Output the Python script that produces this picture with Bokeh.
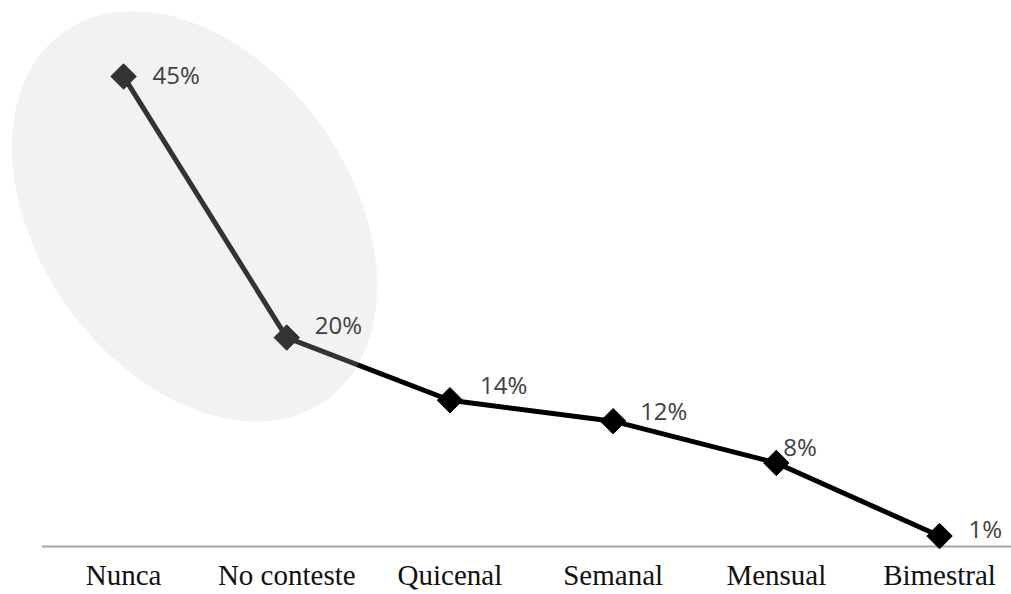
import math
from bokeh.plotting import figure
from bokeh.models import Range1d, FixedTicker, ColumnDataSource
from bokeh.core.properties import value
from bokeh.embed import file_html
from bokeh.resources import INLINE

# ---- data ----
categories = ["Nunca", "No conteste", "Quicenal", "Semanal", "Mensual", "Bimestral"]
percentages = [45, 20, 14, 12, 8, 1]
labels = ["45%", "20%", "14%", "12%", "8%", "1%"]

# label placement (screen pixels, relative to each point)
label_dx = [29, 28, 30, 27, 7, 29]
label_dy = [-2, -13, -16, -11, -16, -8]

xs = list(range(len(categories)))

p = figure(width=1011, height=594, output_backend="svg", toolbar_location=None,
           x_range=Range1d(-0.754, 5.441), y_range=Range1d(-4.595, 52.27),
           min_border_left=0, min_border_right=0, min_border_top=0, min_border_bottom=0)
p.outline_line_color = None
p.grid.visible = False
p.yaxis.visible = False
p.background_fill_color = "white"

ax = p.xaxis[0]
ax.fixed_location = 0
ax.ticker = FixedTicker(ticks=xs)
ax.major_label_overrides = {i: c for i, c in enumerate(categories)}
ax.axis_line_color = None
ax.major_tick_line_color = None
ax.minor_tick_line_color = None
ax.major_label_text_font = "Liberation Serif"
ax.major_label_text_font_size = "29px"
ax.major_label_text_color = "#111111"
ax.major_label_standoff = 6

src = ColumnDataSource(dict(x=xs, y=percentages, label=labels, dx=label_dx, dy=label_dy))

# category baseline, from the first band edge to the last one
p.segment(x0=[xs[0] - 0.5], y0=[0], x1=[xs[-1] + 0.5], y1=[0],
          line_color="#a6a6a6", line_width=2)

p.line("x", "y", source=src, line_width=5, line_color="black")
p.scatter("x", "y", source=src, marker="square", size=18, angle=math.pi / 4,
          fill_color="black", line_color="black")

# highlight ellipse around the first two categories
p.ellipse(x=[0.435], y=[31.6], width=[312], height=[452], angle=[0.62],
          width_units="screen", height_units="screen",
          fill_color="#cbcbcb", fill_alpha=0.25, line_color=None)

p.text("x", "y", text="label", x_offset="dx", y_offset="dy", source=src,
       text_font=value("Open Sans"), text_font_size="24px", text_color="#404040",
       text_align="left", text_baseline="middle")

open("out.html", "w").write(file_html(p, INLINE))
